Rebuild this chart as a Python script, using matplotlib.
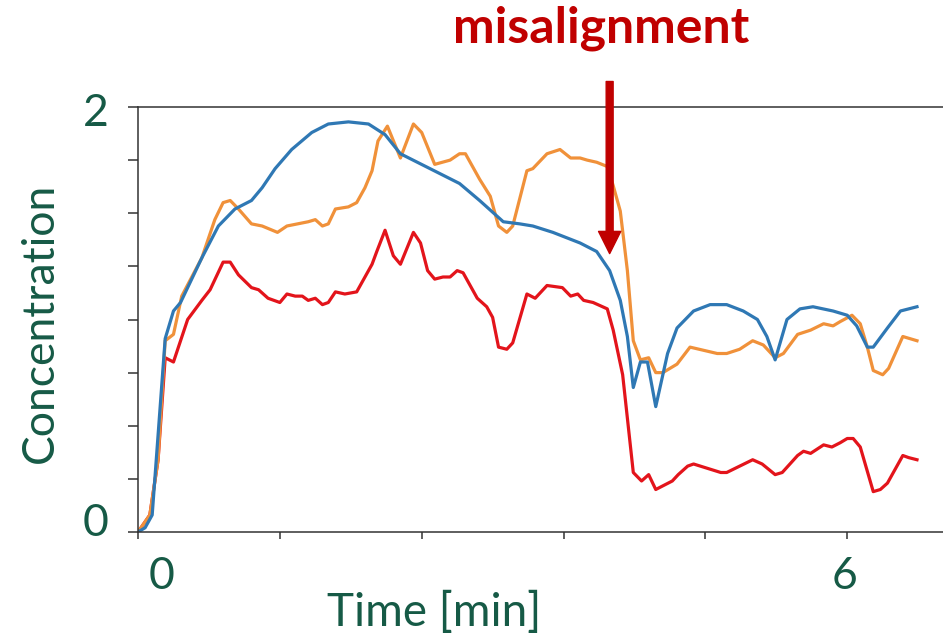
import numpy as np
import matplotlib
matplotlib.use("Agg")
import matplotlib.pyplot as plt

# blue trace
t_blue = [0.00, 0.06, 0.12, 0.23, 0.30, 0.36, 0.42, 0.54, 0.68, 0.82, 0.96, 1.05, 1.16, 1.30,
          1.47, 1.61, 1.78, 1.95, 2.09, 2.22, 2.47, 2.72, 2.89, 3.09, 3.23, 3.34, 3.51, 3.74,
          3.88, 3.99, 4.08, 4.14, 4.19, 4.25, 4.31, 4.38, 4.48, 4.56, 4.70, 4.84, 4.98, 5.12,
          5.24, 5.32, 5.39, 5.49, 5.60, 5.71, 5.88, 6.00, 6.08, 6.17, 6.22, 6.34, 6.45, 6.59]
c_blue = [0.00, 0.02, 0.08, 0.91, 1.04, 1.08, 1.15, 1.29, 1.44, 1.52, 1.56, 1.62, 1.71, 1.80,
          1.88, 1.92, 1.93, 1.92, 1.87, 1.78, 1.71, 1.64, 1.56, 1.46, 1.45, 1.44, 1.41, 1.36,
          1.32, 1.23, 1.09, 0.92, 0.68, 0.80, 0.80, 0.59, 0.84, 0.96, 1.04, 1.07, 1.07, 1.04,
          1.00, 0.92, 0.81, 1.00, 1.05, 1.06, 1.04, 1.02, 0.97, 0.87, 0.87, 0.96, 1.04, 1.06]

# orange trace
t_orange = [0.00, 0.10, 0.17, 0.23, 0.30, 0.37, 0.54, 0.65, 0.72, 0.78, 0.85, 0.96, 1.05, 1.18,
            1.26, 1.35, 1.44, 1.50, 1.56, 1.61, 1.67, 1.78, 1.85, 1.92, 1.98, 2.03, 2.11, 2.22,
            2.33, 2.40, 2.51, 2.64, 2.72, 2.77, 2.89, 2.98, 3.05, 3.12, 3.17, 3.29, 3.34, 3.46,
            3.57, 3.66, 3.74, 3.80, 3.88, 3.97, 4.02, 4.08, 4.14, 4.19, 4.25, 4.32, 4.38, 4.44,
            4.56, 4.67, 4.90, 4.98, 5.09, 5.20, 5.29, 5.39, 5.46, 5.58, 5.69, 5.80, 5.88, 5.94,
            6.04, 6.11, 6.17, 6.22, 6.30, 6.35, 6.47, 6.59]
c_orange = [0.00, 0.08, 0.34, 0.90, 0.93, 1.11, 1.29, 1.47, 1.55, 1.56, 1.52, 1.45, 1.44, 1.41,
            1.44, 1.45, 1.46, 1.47, 1.44, 1.45, 1.52, 1.53, 1.55, 1.62, 1.70, 1.84, 1.91, 1.76,
            1.92, 1.88, 1.73, 1.75, 1.78, 1.78, 1.66, 1.58, 1.44, 1.41, 1.44, 1.70, 1.71, 1.78,
            1.80, 1.76, 1.76, 1.75, 1.74, 1.72, 1.63, 1.51, 1.23, 0.90, 0.81, 0.82, 0.75, 0.75,
            0.79, 0.87, 0.84, 0.84, 0.86, 0.90, 0.88, 0.82, 0.84, 0.93, 0.95, 0.98, 0.97, 0.99,
            1.02, 0.98, 0.87, 0.76, 0.74, 0.77, 0.92, 0.90]

# red trace
t_red = [0.00, 0.10, 0.17, 0.23, 0.30, 0.42, 0.54, 0.61, 0.72, 0.78, 0.85, 0.96, 1.02, 1.10,
         1.20, 1.26, 1.33, 1.39, 1.44, 1.50, 1.56, 1.61, 1.67, 1.75, 1.85, 1.98, 2.02, 2.09,
         2.16, 2.22, 2.33, 2.39, 2.45, 2.51, 2.58, 2.64, 2.70, 2.75, 2.87, 2.95, 3.00, 3.05,
         3.12, 3.17, 3.29, 3.36, 3.46, 3.59, 3.66, 3.72, 3.77, 3.85, 3.97, 4.02, 4.10, 4.19,
         4.26, 4.32, 4.38, 4.52, 4.57, 4.65, 4.70, 4.93, 4.98, 5.09, 5.20, 5.28, 5.39, 5.45,
         5.58, 5.63, 5.69, 5.80, 5.87, 5.94, 6.00, 6.05, 6.11, 6.22, 6.28, 6.34, 6.47, 6.52, 6.59]
c_red = [0.00, 0.08, 0.34, 0.82, 0.80, 1.00, 1.09, 1.14, 1.27, 1.27, 1.21, 1.15, 1.14, 1.10,
         1.08, 1.12, 1.11, 1.11, 1.09, 1.10, 1.07, 1.08, 1.13, 1.12, 1.13, 1.26, 1.32, 1.42,
         1.30, 1.26, 1.41, 1.36, 1.23, 1.19, 1.20, 1.20, 1.23, 1.22, 1.10, 1.06, 1.01, 0.87,
         0.86, 0.89, 1.12, 1.10, 1.16, 1.15, 1.11, 1.12, 1.09, 1.08, 1.05, 0.95, 0.74, 0.28,
         0.24, 0.27, 0.20, 0.24, 0.27, 0.31, 0.32, 0.28, 0.28, 0.31, 0.34, 0.32, 0.27, 0.28,
         0.36, 0.38, 0.37, 0.41, 0.40, 0.42, 0.44, 0.44, 0.40, 0.19, 0.20, 0.23, 0.36, 0.35, 0.34]

green = '#165a46'
dark_red = '#c00000'

plt.rcParams['font.family'] = ['Lato', 'DejaVu Sans']

fig = plt.figure(figsize=(9.43, 6.40), dpi=100)
ax = fig.add_axes([138/943, 1 - 532/640, 1 - 138/943, 425/640])

ax.plot(t_red, c_red, color='#e3141b', lw=2.3)
ax.plot(t_orange, c_orange, color='#f0913a', lw=2.3)
ax.plot(t_blue, c_blue, color='#2f78b4', lw=2.3)

ax.set_xlim(0, 6.81)
ax.set_ylim(0, 2)
ax.spines['right'].set_visible(False)
for s in ['left', 'bottom', 'top']:
    ax.spines[s].set_color('#333333')
    ax.spines[s].set_linewidth(1.1)

ax.set_xticks(np.arange(0, 6.01, 1.2))
ax.set_yticks(np.arange(0, 2.01, 0.25))
ax.set_xticklabels([])
ax.set_yticklabels([])
ax.tick_params(axis='x', length=5, width=1.1, color='#333333')
ax.tick_params(axis='y', length=7, width=1.1, color='#333333')

# tick labels placed by hand like the original slide
lab = dict(color=green, fontsize=32, ha='center', va='center', clip_on=False)
ax.text(-0.355, 1.97, '2', **lab)
ax.text(-0.355, 0.04, '0', **lab)
ax.text(0.2, -0.21, '0', **lab)
ax.text(5.98, -0.21, '6', **lab)

fig.text(40/943, 1 - 323/640, 'Concentration', color=green, fontsize=32,
         rotation=90, ha='center', va='center')
fig.text(434/943, 1 - 612/640, 'Time [min]', color=green, fontsize=33,
         ha='center', va='center')

# misalignment marker
ax.annotate('', xy=(3.99, 1.31), xytext=(3.99, 2.12),
            arrowprops=dict(color=dark_red, width=5, headwidth=16, headlength=16, shrink=0),
            annotation_clip=False)
fig.text(601/943, 1 - 28/640, 'misalignment', color=dark_red, fontsize=36,
         fontweight='bold', ha='center', va='center')

fig.savefig('out.png', dpi=100)
